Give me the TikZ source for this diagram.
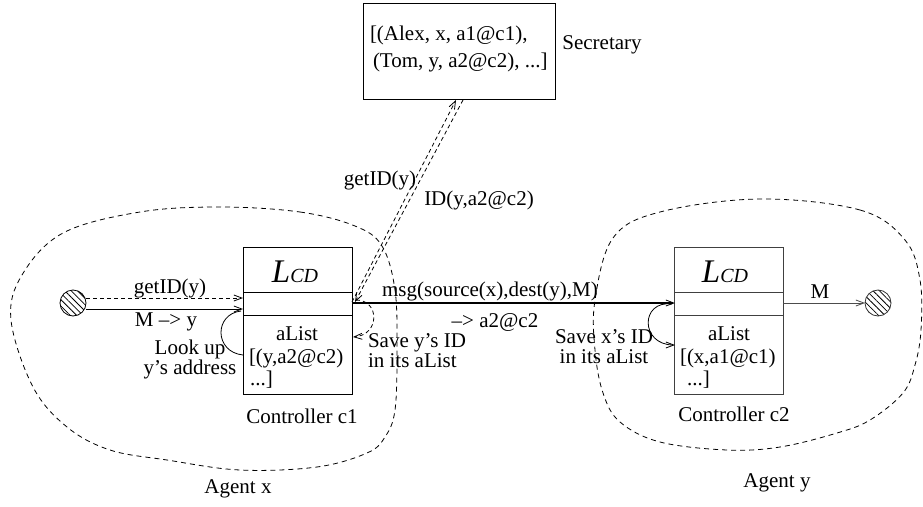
\documentclass[tikz,border=0pt]{standalone}
\usepackage{fontspec}
\setmainfont{Liberation Serif}
\usetikzlibrary{arrows.meta,patterns.meta}
\begin{document}
\begin{tikzpicture}[x=1pt,y=-1pt,
  font=\fontsize{21}{23}\selectfont,
  every node/.style={inner sep=0pt,outer sep=0pt},
  ln/.style={line width=0.8pt},
  oarr/.style={-{Straight Barb[length=8pt,width=6pt,line width=0.8pt]}},
  blob/.style={line width=0.8pt,dash pattern=on 5pt off 4pt},
  sdash/.style={line width=0.8pt,dash pattern=on 4pt off 3pt},
  ctrl/.style={draw,line width=0.8pt,minimum width=109pt,minimum height=147pt},
  hatch/.style={draw,line width=0.8pt,circle,minimum size=26pt,pattern={Lines[angle=-45,distance=4.5pt,line width=0.8pt]}},
  twoline/.style={font=\fontsize{21}{20}\selectfont}
]
\useasboundingbox (0,0) rectangle (923,506);

% agent blobs
\draw[blob] plot[smooth cycle,tension=0.6] coordinates {
  (220,207) (300,212) (355,226) (382,246) (395,290) (397,350) (395,410)
  (385,437) (367,453) (317,467) (240,470) (167,460) (110,450) (67,427)
  (33,387) (11,320) (22,275) (63,233) (140,212)};
\draw[blob] plot[smooth cycle,tension=0.6] coordinates {
  (760,199) (860,210) (905,240) (920,280) (921,330) (915,365) (903,393)
  (870,420) (837,433) (780,447) (727,450) (660,442) (620,422) (603,393)
  (595,350) (595,300) (613,238) (660,212)};

% secretary
\node[draw,line width=0.8pt,minimum width=192pt,minimum height=96pt] (sec) at (459,51) {};
\node[anchor=west] (sec1) at (370,35) {[(Alex, x, a1@c1),};
\node[anchor=west] (sec2) at (373,62) {(Tom, y, a2@c2), ...]};
\node (seclab) at (602,45) {Secretary};

% controller c1
\node[ctrl] (c1) at (297.5,320.5) {};
\coordinate (c1d1w) at (243,292); \coordinate (c1d1e) at (352,292);
\coordinate (c1d2w) at (243,315); \coordinate (c1d2e) at (352,315);
\draw[ln] (c1d1w) -- (c1d1e);
\draw[ln] (c1d2w) -- (c1d2e);
\node (c1L) at (295,272) {{\fontsize{33}{34}\selectfont\itshape L}{\fontsize{20}{21}\selectfont\itshape CD}};
\node (c1a) at (297,334) {aList};
\node[anchor=west] (c1b) at (249,358) {[(y,a2@c2)};
\node[anchor=west] (c1c) at (250,380) {...]};
\node (c1lab) at (302,416) {Controller c1};

% controller c2
\begin{scope}[black!75]
\node[ctrl] (c2) at (729,320.5) {};
\coordinate (c2d1w) at (675,292); \coordinate (c2d1e) at (783,292);
\coordinate (c2d2w) at (675,315); \coordinate (c2d2e) at (783,315);
\draw[ln] (c2d1w) -- (c2d1e);
\draw[ln] (c2d2w) -- (c2d2e);
\end{scope}
\node (c2L) at (725,272) {{\fontsize{33}{34}\selectfont\itshape L}{\fontsize{20}{21}\selectfont\itshape CD}};
\node (c2a) at (729,334) {aList};
\node[anchor=west] (c2b) at (680,358) {[(x,a1@c1)};
\node[anchor=west] (c2c) at (687,380) {...]};
\node (c2lab) at (734,414) {Controller c2};

% left source
\node[hatch] (src) at (73,303) {};
\coordinate (srcA) at (86,298); \coordinate (c1A) at (243,298);
\coordinate (srcB) at (86,309); \coordinate (c1B) at (243,309);
\draw[sdash,oarr] (srcA) -- (c1A);
\draw[ln,oarr] (srcB) -- (c1B);
\node (lgetid) at (170,288) {getID(y)};
\node (lmy) at (166,322) {M –> y};

% look up arc
\coordinate (lk1) at (243,355); \coordinate (lk2) at (241,311);
\draw[ln] (lk1) .. controls (214,352) and (214,314) .. (lk2);
\node[twoline,align=center] (lkt) at (190,359) {Look up\\ y’s address};

% secretary links
\coordinate (c1s1) at (352,302); \coordinate (secb1) at (456,100);
\coordinate (secb2) at (463,100); \coordinate (c1s2) at (355,302);
\draw[sdash,oarr] (c1s1) -- (secb1);
\draw[sdash,oarr] (secb2) -- (c1s2);
\node (sgetid) at (380,180) {getID(y)};
\node (sid) at (479,200) {ID(y,a2@c2)};

% msg
\coordinate (m1) at (352,303); \coordinate (m2) at (675,303);
\draw[line width=1.8pt,-{Straight Barb[length=8pt,width=6pt,line width=0.8pt]}] (m1) -- (m2);
\node (msg) at (490,291) {msg(source(x),dest(y),M)};
\node (msg2) at (495,322) {–> a2@c2};

% save y's id (c1)
\coordinate (sy1) at (356,300); \coordinate (sy2) at (353,337);
\draw[sdash,oarr] (sy1) .. controls (380,300) and (380,335) .. (sy2);
\node[twoline,align=left,anchor=west] (syt) at (368,351) {Save y’s ID\\in its aList};

% save x's id (c2)
\coordinate (sx1) at (672,304); \coordinate (sx2) at (675,345);
\draw[ln,oarr] (sx1) .. controls (640,300) and (640,345) .. (sx2);
\node[twoline,align=center] (sxt) at (604,347) {Save x’s ID\\in its aList};

% right sink
\node[hatch,draw=black!80] (dst) at (878,303) {};
\coordinate (c2out) at (783,303); \coordinate (dstin) at (865,303);
\draw[ln,oarr,black!70] (c2out) -- (dstin);
\node (mlab) at (820,292) {M};

% agent labels
\node (ax) at (238,489) {Agent x};
\node (ay) at (777,483) {Agent y};
\end{tikzpicture}
\end{document}
